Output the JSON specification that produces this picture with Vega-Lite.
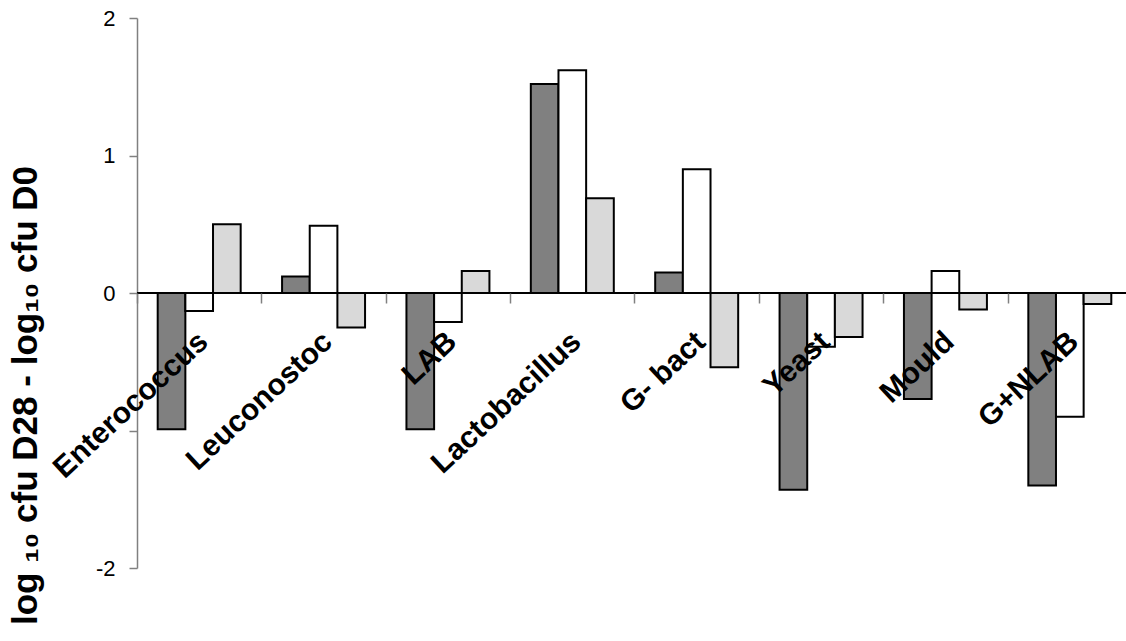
{
  "$schema": "https://vega.github.io/schema/vega-lite/v6.json",
  "width": 989,
  "height": 550,
  "autosize": {"type": "none"},
  "padding": {"left": 137, "top": 18, "right": 0, "bottom": 73},
  "background": "white",
  "config": {"view": {"stroke": null}, "font": "Liberation Sans"},
  "data": {
    "values": [
      {"group": "Enterococcus", "series": "Treatment 1", "value": -0.99},
      {"group": "Enterococcus", "series": "Treatment 2", "value": -0.13},
      {"group": "Enterococcus", "series": "Treatment 3", "value": 0.5},
      {"group": "Leuconostoc", "series": "Treatment 1", "value": 0.12},
      {"group": "Leuconostoc", "series": "Treatment 2", "value": 0.49},
      {"group": "Leuconostoc", "series": "Treatment 3", "value": -0.25},
      {"group": "LAB", "series": "Treatment 1", "value": -0.99},
      {"group": "LAB", "series": "Treatment 2", "value": -0.21},
      {"group": "LAB", "series": "Treatment 3", "value": 0.16},
      {"group": "Lactobacillus", "series": "Treatment 1", "value": 1.52},
      {"group": "Lactobacillus", "series": "Treatment 2", "value": 1.62},
      {"group": "Lactobacillus", "series": "Treatment 3", "value": 0.69},
      {"group": "G- bact", "series": "Treatment 1", "value": 0.15},
      {"group": "G- bact", "series": "Treatment 2", "value": 0.9},
      {"group": "G- bact", "series": "Treatment 3", "value": -0.54},
      {"group": "Yeast", "series": "Treatment 1", "value": -1.43},
      {"group": "Yeast", "series": "Treatment 2", "value": -0.39},
      {"group": "Yeast", "series": "Treatment 3", "value": -0.32},
      {"group": "Mould", "series": "Treatment 1", "value": -0.77},
      {"group": "Mould", "series": "Treatment 2", "value": 0.16},
      {"group": "Mould", "series": "Treatment 3", "value": -0.12},
      {"group": "G+NLAB", "series": "Treatment 1", "value": -1.4},
      {"group": "G+NLAB", "series": "Treatment 2", "value": -0.9},
      {"group": "G+NLAB", "series": "Treatment 3", "value": -0.08}
    ]
  },
  "layer": [
    {
      "mark": {"type": "bar", "stroke": "black", "strokeWidth": 2},
      "encoding": {
        "x": {
          "field": "group",
          "type": "nominal",
          "sort": null,
          "scale": {"range": [0, 995], "paddingInner": 0.3328, "paddingOuter": 0.1664},
          "axis": {
            "title": null,
            "orient": "bottom",
            "offset": -275,
            "domain": false,
            "ticks": true,
            "tickSize": 10,
            "tickColor": "#808080",
            "tickWidth": 1.5,
            "tickOffset": -62.2,
            "labelOffset": 66,
            "labelAngle": -43,
            "labelAlign": "right",
            "labelBaseline": "middle",
            "labelPadding": 34,
            "labelLimit": 0,
            "labelFont": "Liberation Sans",
            "labelFontWeight": "bold",
            "labelFontSize": 30,
            "labelColor": "black",
            "labelOverlap": false,
            "labelBound": false,
            "labelFlush": false,
            "zindex": 1
          }
        },
        "xOffset": {
          "field": "series",
          "type": "nominal",
          "scale": {"domain": ["Treatment 1", "Treatment 2", "Treatment 3"], "paddingInner": 0, "paddingOuter": 0}
        },
        "y": {
          "field": "value",
          "type": "quantitative",
          "scale": {"domain": [-2, 2], "nice": false},
          "axis": {
            "title": "log ₁₀ cfu D28 - log₁₀ cfu D0",
            "values": [-2, -1, 0, 1, 2],
            "labelExpr": "datum.value == -1 ? '' : toString(datum.value)",
            "grid": false,
            "domainColor": "#808080",
            "domainWidth": 1.5,
            "tickColor": "#808080",
            "tickSize": 8,
            "tickWidth": 1.5,
            "labelFont": "Liberation Sans",
            "labelFontSize": 22,
            "labelPadding": 14,
            "labelColor": "black",
            "titleFont": "Liberation Sans",
            "titleFontSize": 35,
            "titleFontWeight": "bold",
            "titleColor": "black",
            "titleX": -112,
            "titleY": 377,
            "titleAlign": "center",
            "titleBaseline": "middle",
            "titleAngle": -90
          }
        },
        "fill": {
          "field": "series",
          "type": "nominal",
          "scale": {"domain": ["Treatment 1", "Treatment 2", "Treatment 3"], "range": ["#808080", "#ffffff", "#d9d9d9"]},
          "legend": null
        }
      }
    },
    {
      "mark": {"type": "rule", "color": "black", "strokeWidth": 1},
      "encoding": {"y": {"datum": 0}}
    }
  ]
}
